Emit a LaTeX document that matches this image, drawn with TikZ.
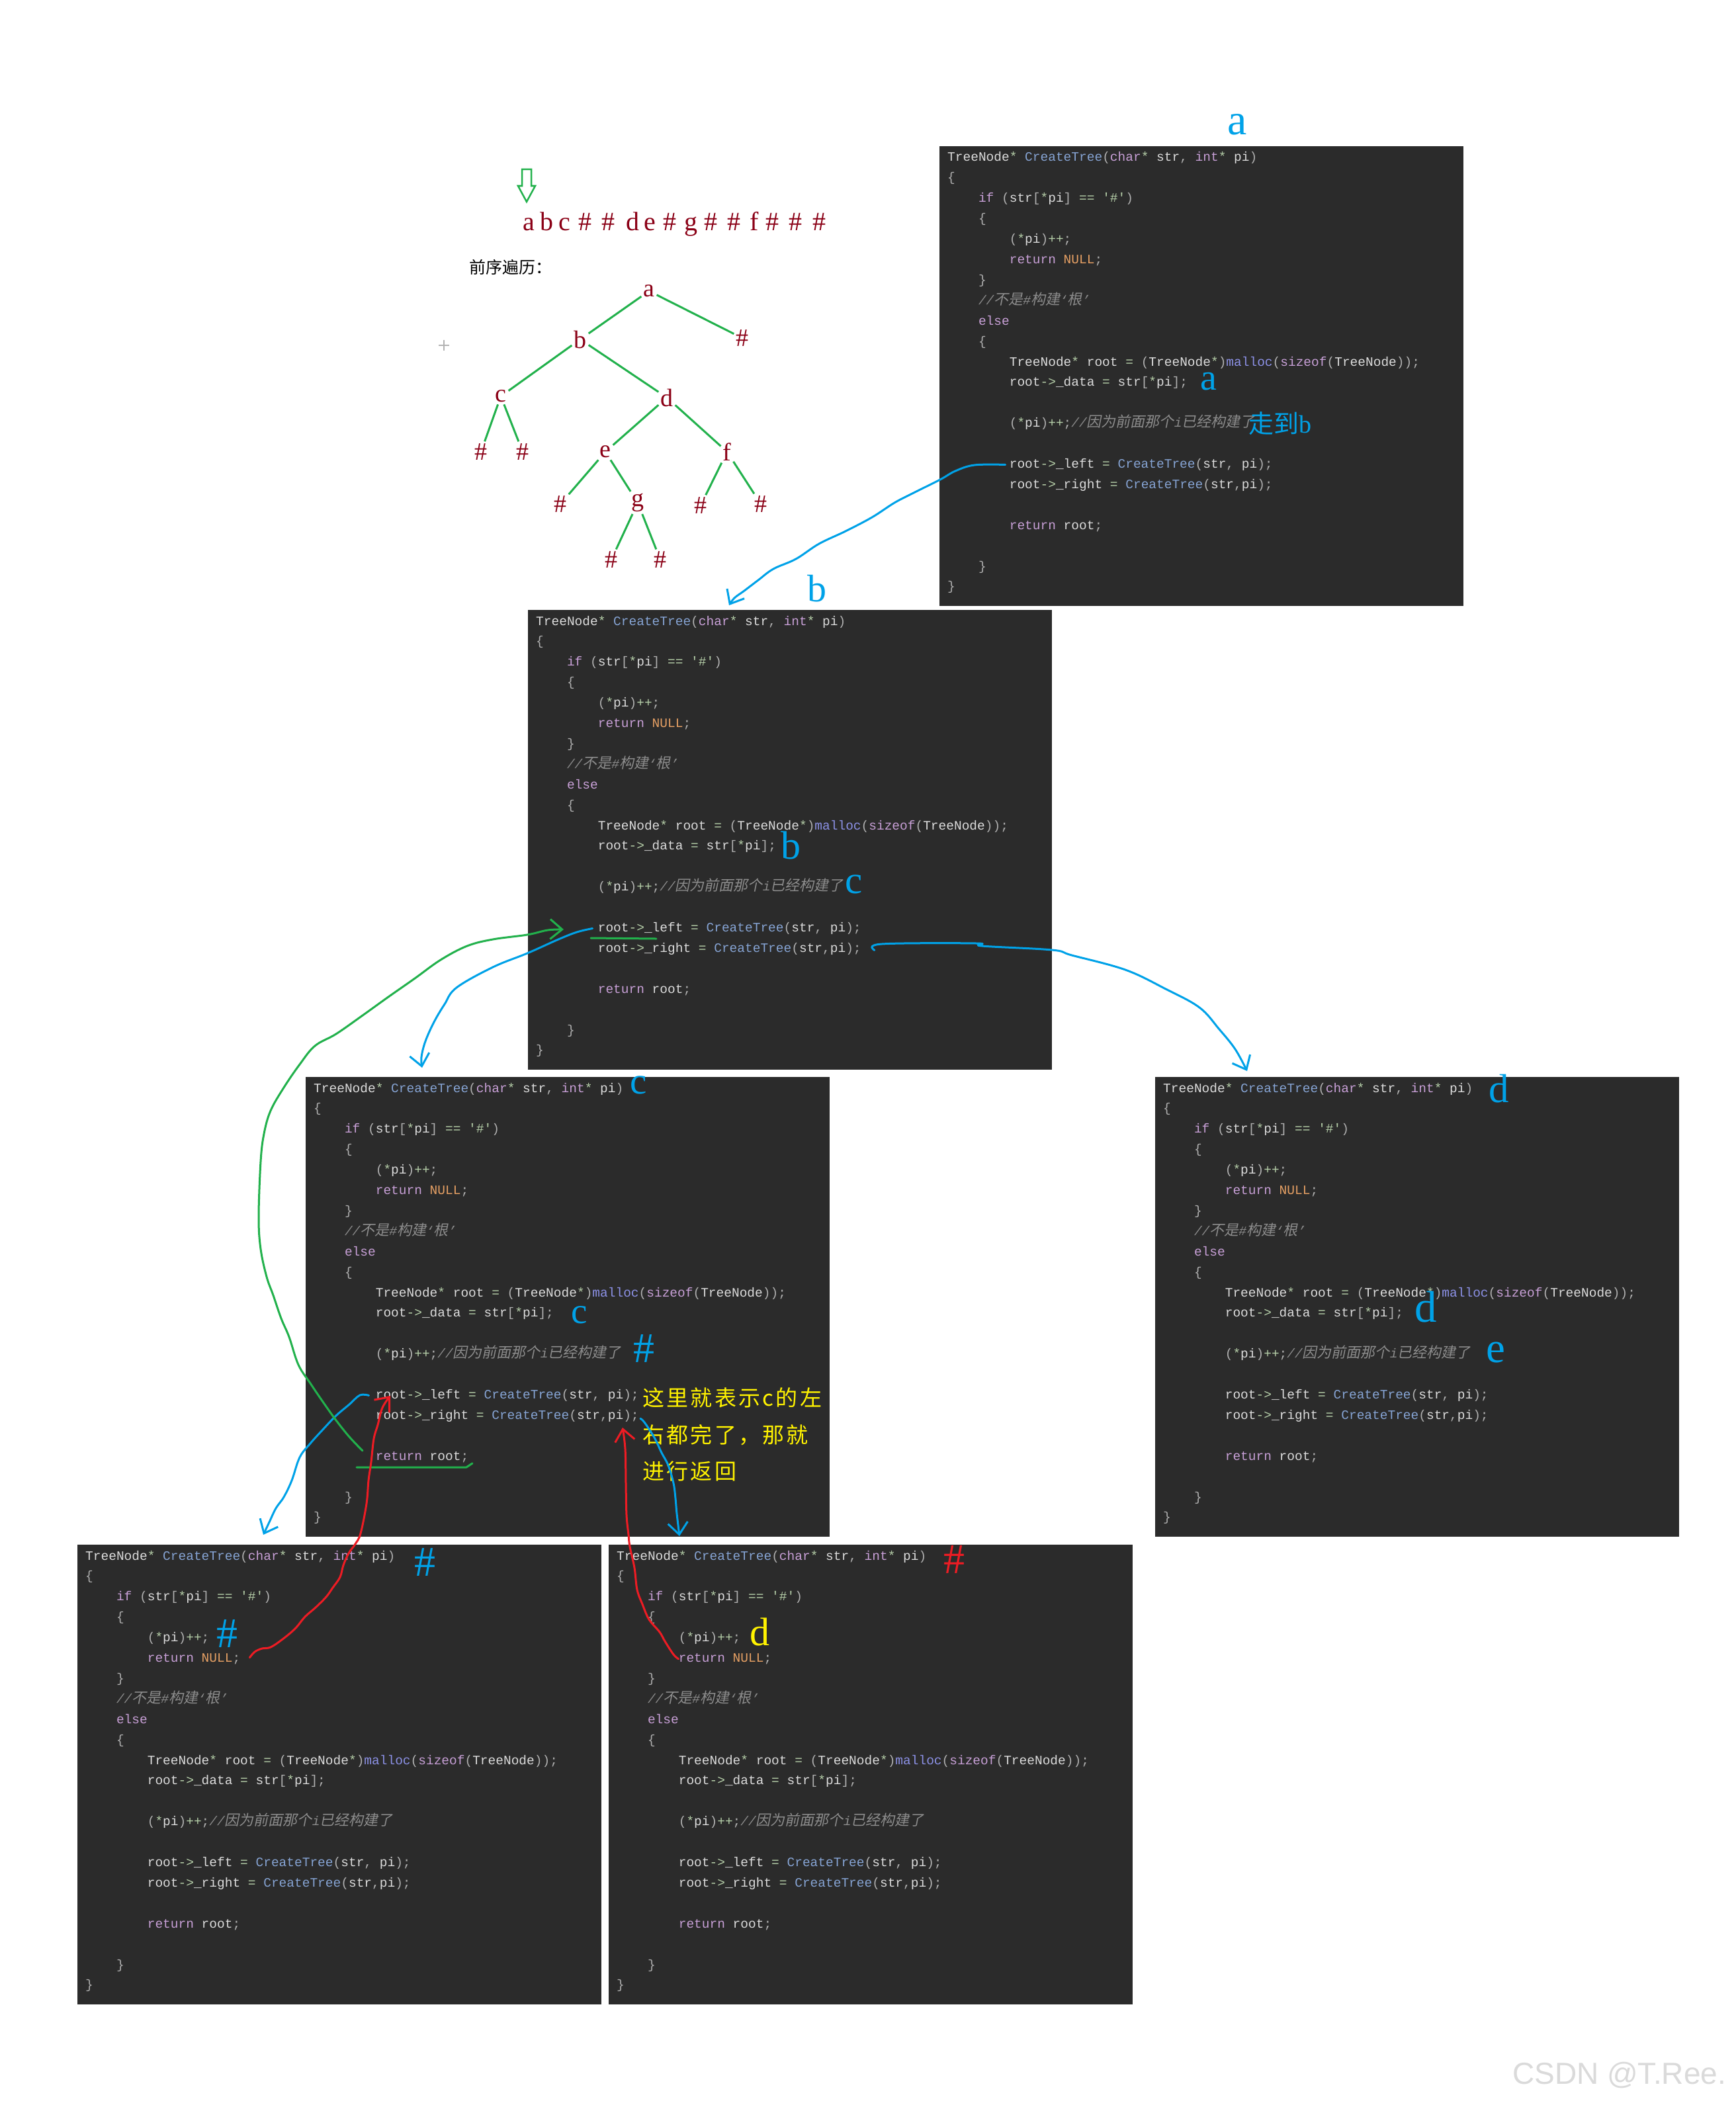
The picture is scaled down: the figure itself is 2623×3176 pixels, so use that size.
\documentclass[tikz,border=0pt]{standalone}
\usepackage{fontspec}
\setmainfont{Liberation Serif}
\newfontfamily\codefont{Liberation Mono}
\newfontfamily\zhfont{Noto Sans CJK SC}
\newfontfamily\zhslant{Noto Sans CJK SC}[FakeSlant=0.2]
\newfontfamily\notefont{Noto Sans CJK SC}[LetterSpace=10]
\newfontfamily\markfont{Liberation Sans}
\usetikzlibrary{arrows.meta, calc, math}
\definecolor{codebg}{RGB}{43,43,43}
\definecolor{codefg}{RGB}{220,220,220}
\definecolor{codekw}{RGB}{200,160,215}
\definecolor{codefn}{RGB}{134,164,212}
\definecolor{codefm}{RGB}{140,145,230}
\definecolor{codeop}{RGB}{181,206,168}
\definecolor{codepn}{RGB}{175,175,175}
\definecolor{codenul}{RGB}{230,160,100}
\definecolor{codecm}{RGB}{140,140,140}
\definecolor{treered}{RGB}{139,0,22}
\definecolor{treegreen}{RGB}{34,177,76}
\definecolor{handblue}{RGB}{0,162,232}
\definecolor{handred}{RGB}{237,28,36}
\definecolor{handyellow}{RGB}{255,242,0}
\definecolor{markgray}{RGB}{218,218,218}

\newcommand{\ckw}[1]{\textcolor{codekw}{#1}}
\newcommand{\cfn}[1]{\textcolor{codefn}{#1}}
\newcommand{\cfm}[1]{\textcolor{codefm}{#1}}
\newcommand{\cop}[1]{\textcolor{codeop}{#1}}
\newcommand{\cpn}[1]{\textcolor{codepn}{#1}}
\newcommand{\cnul}[1]{\textcolor{codenul}{#1}}
\newcommand{\ccm}[1]{{\color{codecm}\itshape #1}}
\newcommand{\czh}[1]{{\zhslant\fontsize{22}{22}\selectfont #1}}

\tikzset{
  codeframe/.style={anchor=north west, fill=codebg, minimum width=792pt, minimum height=695pt, inner sep=0pt, outer sep=0pt},
  codeline/.style={anchor=base west, inner sep=0pt, text=codefg, font=\codefont\fontsize{19.5}{20}\selectfont},
  seqchar/.style={anchor=base, inner sep=0pt, text=treered, font=\fontsize{40}{40}\selectfont},
  treeletter/.style={inner sep=3pt, text=treered, font=\fontsize{38}{38}\selectfont},
  treeedge/.style={treegreen, line width=3pt},
  hand/.style={inner sep=0pt, text=handblue, font=\fontsize{#1}{#1}\selectfont},
  hand/.default=60,
  note/.style={anchor=west, inner sep=0pt, text=handyellow, font=\notefont\fontsize{33}{33}\selectfont},
  handline/.style={line width=3pt, line cap=round, line join=round},
  barb/.style={-{Straight Barb[length=18pt,width=30pt]}}
}

% one dark editor box with the whole function
\newcommand{\codebox}[3]{%
  \node[codeframe] (code#1) at (#2,#3) {};
  \foreach \row/\lvl/\src in {
    0/0/{TreeNode\cop{*} \cfn{CreateTree}\cpn{(}\ckw{char}\cop{*} str\cpn{,} \ckw{int}\cop{*} pi\cpn{)}},
    1/0/{\cpn{\{}},
    2/4/{\ckw{if} \cpn{(}str\cpn{[}\cop{*}pi\cpn{]} \cop{==} \cop{\textquotesingle\#\textquotesingle}\cpn{)}},
    3/4/{\cpn{\{}},
    4/8/{\cpn{(}\cop{*}pi\cpn{)}\cop{++}\cpn{;}},
    5/8/{\ckw{return} \cnul{NULL}\cpn{;}},
    6/4/{\cpn{\}}},
    7/4/{\ccm{//\czh{不是}\#\czh{构建}‘\czh{根}’}},
    8/4/{\ckw{else}},
    9/4/{\cpn{\{}},
    10/8/{TreeNode\cop{*} root \cop{=} \cpn{(}TreeNode\cop{*}\cpn{)}\cfm{malloc}\cpn{(}\ckw{sizeof}\cpn{(}TreeNode\cpn{));}},
    11/8/{root\cop{->}\_data \cop{=} str\cpn{[}\cop{*}pi\cpn{];}},
    13/8/{\cpn{(}\cop{*}pi\cpn{)}\cop{++}\cpn{;}\ccm{//\czh{因为前面那个}i\czh{已经构建了}}},
    15/8/{root\cop{->}\_left \cop{=} \cfn{CreateTree}\cpn{(}str\cpn{,} pi\cpn{);}},
    16/8/{root\cop{->}\_right \cop{=} \cfn{CreateTree}\cpn{(}str\cpn{,}pi\cpn{);}},
    18/8/{\ckw{return} root\cpn{;}},
    20/4/{\cpn{\}}},
    21/0/{\cpn{\}}}}
    \node[codeline] (code#1-\row) at ($(code#1.north west)+({12+\chw*\lvl},{23+\lnh*\row})$) {\src};
}

\begin{document}
\begin{tikzpicture}[x=1pt, y=-1pt]
\tikzmath{
\chw=11.7;
\lnh=30.9;
}
\fill[white] (0,0) rectangle (2623,3176);
\useasboundingbox (0,0) rectangle (2623,3176);

% input string and the tree
\draw[treegreen, line width=2.5pt] (789,256) -- (803,256) -- (803,281) -- (809,281) -- (796,305) -- (783,281) -- (789,281) -- cycle;
\foreach \ch/\x [count=\i] in {a/799, b/826, c/853, \#/884, \#/919, d/956, e/982, \#/1012, g/1044, \#/1074, \#/1109, f/1140, \#/1167, \#/1202, \#/1238}
  \node[seqchar] (s\i) at (\x,348) {\ch};
\node[anchor=west, inner sep=0pt, font=\zhfont\fontsize{25}{25}\selectfont] (pre) at (709,404) {前序遍历：};
\draw[gray!60, line width=1.2pt] (663,522) -- (679,522) (671,514) -- (671,530);

\node[treeletter] (ta) at (981,440) {a};
\node[treeletter] (tb) at (877,513) {b};
\node[treeletter] (tr) at (1122,511) {\#};
\node[treeletter] (tc) at (757,599) {c};
\node[treeletter] (td) at (1008,601) {d};
\node[treeletter] (tcl) at (727,683) {\#};
\node[treeletter] (tcr) at (790,683) {\#};
\node[treeletter] (te) at (915,683) {e};
\node[treeletter] (tf) at (1099,683) {f};
\node[treeletter] (tel) at (847,762) {\#};
\node[treeletter] (tg) at (964,760) {g};
\node[treeletter] (tfl) at (1059,764) {\#};
\node[treeletter] (tfr) at (1150,762) {\#};
\node[treeletter] (tgl) at (924,846) {\#};
\node[treeletter] (tgr) at (998,846) {\#};
\foreach \u/\v in {ta/tb, ta/tr, tb/tc, tb/td, tc/tcl, tc/tcr, td/te, td/tf, te/tel, te/tg, tf/tfl, tf/tfr, tg/tgl, tg/tgr}
  \draw[treeedge] (\u) -- (\v);

% the six calls
\codebox{A}{1420}{221}
\codebox{B}{798}{922}
\codebox{C}{462}{1628}
\codebox{D}{1746}{1628}
\codebox{E}{117}{2335}
\codebox{F}{920}{2335}

% hand notes
\node[hand=66] (aTop) at (1870,188) {a};
\node[hand=56] (aData) at (1827,577) {a};
\node[hand=38, anchor=west] (aNext) at (1887,640) {{\zhfont 走到}b};
\node[hand=58] (bTop) at (1235,890) {b};
\node[hand=60] (bData) at (1195,1278) {b};
\node[hand=59] (bNext) at (1291,1337) {c};
\node[hand=57] (cTop) at (965,1640) {c};
\node[hand=55] (cData) at (876,1988) {c};
\node[hand=64] (cNext) at (973,2039) {\#};
\node[hand=61] (dTop) at (2266,1646) {d};
\node[hand=67] (dData) at (2155,1976) {d};
\node[hand=65] (dNext) at (2261,2044) {e};
\node[hand=64] (eTop) at (642,2362) {\#};
\node[hand=64] (eNext) at (343,2470) {\#};
\node[hand=64, text=handred] (fTop) at (1442,2358) {\#};
\node[hand=60, text=handyellow] (fNext) at (1148,2467) {d};
\node[note] (note1) at (971,2113) {这里就表示c的左};
\node[note] (note2) at (971,2169) {右都完了，那就};
\node[note] (note3) at (971,2224) {进行返回};

% calls going down
\coordinate (aL) at ($(codeA-15.west)+(-6,0)$);
\coordinate (bIn) at (1102,915);
\draw[handblue, handline, barb] plot[smooth, tension=0.6] coordinates {(aL) (1473,703) (1444,712) (1421,725) (1381,745) (1352,760) (1318,782) (1278,803) (1238,822) (1203,845) (1169,860) (1146,877) (1125,893) (1110,904) (bIn)};

\coordinate (bL) at ($(codeB-15.west)+(-8,0)$);
\coordinate (cIn) at (638,1614);
\draw[handblue, handline, barb] plot[smooth, tension=0.6] coordinates {(bL) (872,1409) (844,1420) (797,1441) (745,1462) (690,1493) (672,1518) (656,1545) (643,1574) (637,1598) (cIn)};

\coordinate (bR) at ($(codeB-16.east)+(20,2)$);
\coordinate (dIn) at (1885,1619);
\draw[handblue, handline, barb] plot[smooth, tension=0.6] coordinates {(bR) (1333,1427) (1476,1426) (1484,1430) (1590,1436) (1620,1444) (1701,1466) (1762,1495) (1813,1523) (1843,1556) (1867,1586) (dIn)};

\coordinate (cL) at ($(codeC-15.west)+(-10,0)$);
\coordinate (eIn) at (398,2320);
\draw[handblue, handline, barb] plot[smooth, tension=0.6] coordinates {(cL) (544,2109) (528,2123) (508,2140) (488,2161) (469,2182) (453,2203) (441,2238) (429,2263) (417,2280) (407,2301) (eIn)};

\coordinate (cR) at ($(codeC-16.east)+(2,4)$);
\coordinate (fIn) at (1027,2322);
\draw[handblue, handline, barb] plot[smooth, tension=0.6] coordinates {(cR) (974,2150) (989,2173) (1000,2196) (1010,2215) (1018,2242) (1021,2265) (1023,2288) (fIn)};

% returns going up
\coordinate (cRet) at (548,2193);
\coordinate (bLeft) at (852,1405);
\draw[treegreen, handline, barb] plot[smooth, tension=0.6] coordinates {(cRet) (528,2172) (508,2147) (488,2119) (469,2091) (451,2063) (437,2021) (425,1993) (413,1958) (403,1930) (394,1888) (391,1840) (394,1756) (399,1714) (409,1679) (429,1644) (453,1609) (476,1581) (508,1563) (548,1535) (587,1507) (627,1479) (666,1451) (706,1430) (745,1420) (797,1413) (828,1406) (bLeft)};
\draw[treegreen, handline] (893,1418) -- (992,1419);
\draw[treegreen, handline] (539,2218) -- (705,2218) -- (714,2212);

\coordinate (eRet) at ($(codeE-5.east)+(14,-2)$);
\coordinate (cLeft) at (590,2110);
\draw[handred, handline, barb] plot[smooth, tension=0.6] coordinates {(eRet) (385,2497) (396,2492) (409,2490) (427,2478) (446,2462) (461,2444) (477,2430) (493,2414) (503,2400) (514,2384) (519,2366) (527,2348) (537,2334) (545,2318) (554,2273) (557,2238) (561,2210) (565,2175) (571,2154) (578,2128) (cLeft)};

\coordinate (fRet) at ($(codeF-5.west)+(0,0)$);
\coordinate (cRight) at (941,2158);
\draw[handred, handline, barb] plot[smooth, tension=0.6] coordinates {(fRet) (1018,2501) (1005,2481) (997,2467) (981,2448) (971,2425) (963,2403) (959,2370) (952,2338) (950,2320) (947,2290) (946,2242) (945,2190) (cRight)};

\node[anchor=base west, inner sep=0pt, text=markgray, font=\markfont\fontsize{46}{46}\selectfont] (mark) at (2286,3150) {CSDN @T.Ree.};
\end{tikzpicture}
\end{document}
